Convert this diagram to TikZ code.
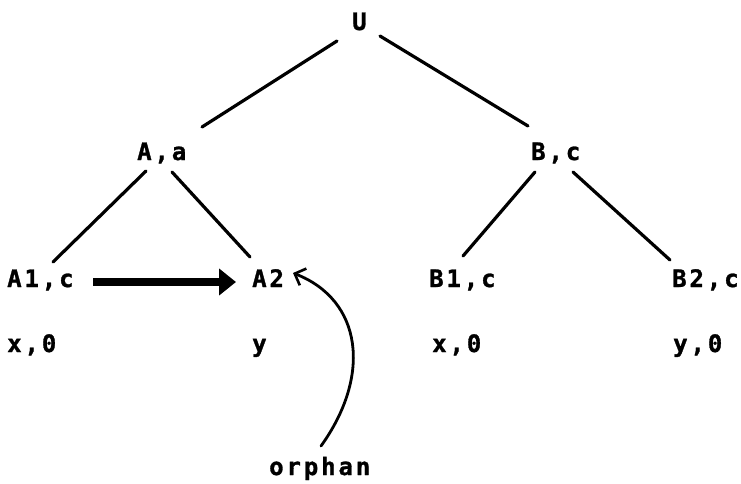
\documentclass[tikz,border=0pt]{standalone}
\usepackage{fontspec}
\newfontfamily\dotfont[LetterSpace=12,FakeBold=1.2]{DejaVu Sans Mono Bold}
\usetikzlibrary{arrows.meta}
\begin{document}
\begin{tikzpicture}[x=1pt,y=-1pt,
  lbl/.style={anchor=base west,inner sep=0pt,font=\dotfont\fontsize{24}{26}\selectfont},
  edge/.style={line width=3.2pt,line cap=round},
  bigarrow/.style={line width=8pt,-{Triangle[length=17pt,width=26pt]}},
  curvearrow/.style={line width=2.8pt,line cap=round,-{Straight Barb[length=9pt,width=18pt,line width=2.6pt]}}]
\useasboundingbox (0,0) rectangle (741,483);
\node[lbl] (U) at (352,30) {U};
\node[lbl] (A) at (137,160) {A,a};
\node[lbl] (B) at (531,160) {B,c};
\node[lbl] (A1) at (7,287) {A1,c};
\node[lbl] (A2) at (252,287) {A2};
\node[lbl] (B1) at (429,287) {B1,c};
\node[lbl] (B2) at (672,287) {B2,c};
\node[lbl] (A1v) at (7,352) {x,0};
\node[lbl] (A2v) at (252,352) {y};
\node[lbl] (B1v) at (432,352) {x,0};
\node[lbl] (B2v) at (673,352) {y,0};
\node[lbl] (orph) at (269,475) {orphan};
\coordinate (uA) at (337,41);
\coordinate (aU) at (202,127);
\coordinate (uB) at (380,36);
\coordinate (bU) at (528,126);
\coordinate (aL) at (146,171);
\coordinate (a1) at (53,262);
\coordinate (aR) at (172,172);
\coordinate (a2) at (250,257);
\coordinate (bL) at (535,172);
\coordinate (b1) at (463,256);
\coordinate (bR) at (573,172);
\coordinate (b2) at (670,260);
\coordinate (arS) at (93,282);
\coordinate (arE) at (236,282);
\coordinate (cS) at (321,446);
\coordinate (cE) at (293,273);
\draw[edge] (uA) -- (aU);
\draw[edge] (uB) -- (bU);
\draw[edge] (aL) -- (a1);
\draw[edge] (aR) -- (a2);
\draw[edge] (bL) -- (b1);
\draw[edge] (bR) -- (b2);
\draw[bigarrow] (arS) -- (arE);
\draw[curvearrow] (cS) .. controls (372,375) and (362,300) .. (cE);
\end{tikzpicture}
\end{document}
